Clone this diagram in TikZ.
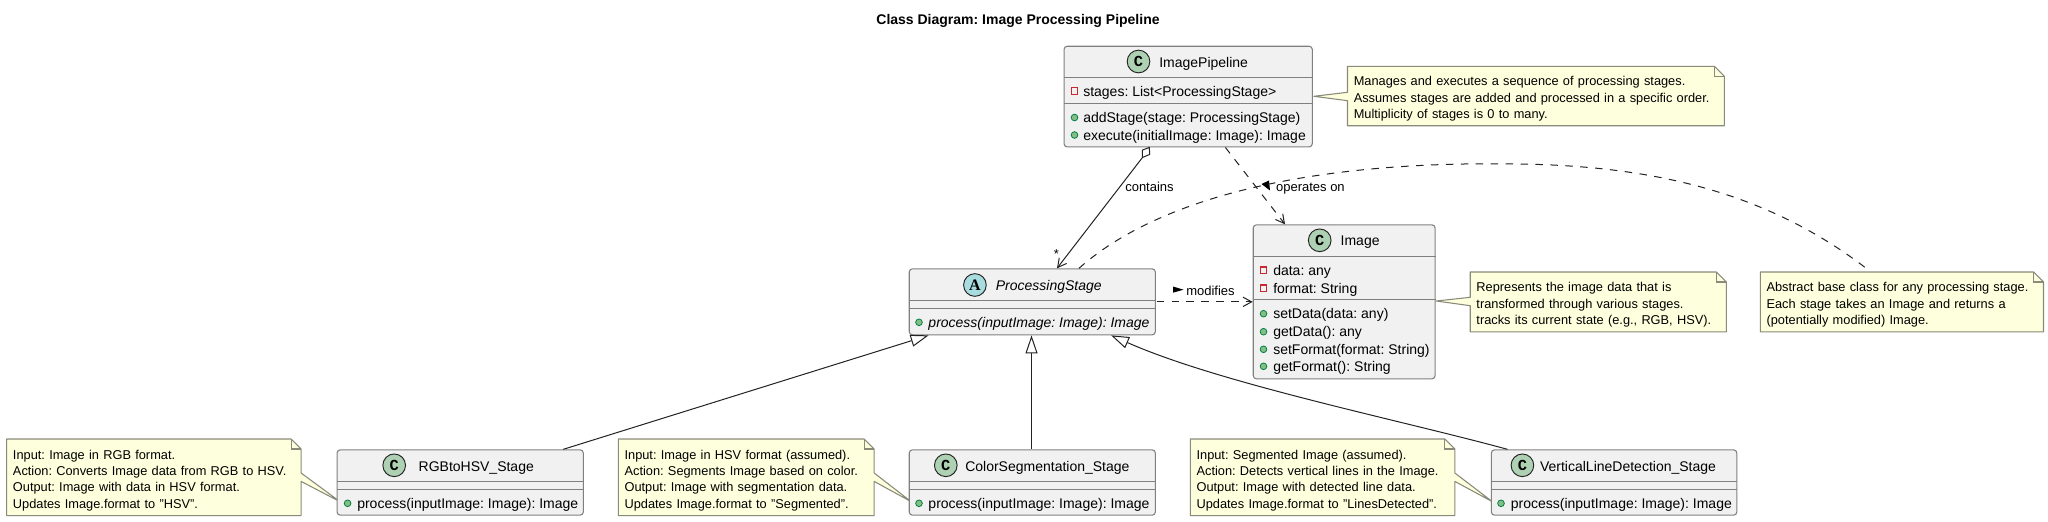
\documentclass[tikz,border=0pt]{standalone}
\usepackage{fontspec}
\setmainfont{Liberation Sans}
\newfontfamily\circlefont{Liberation Mono}
\newfontfamily\abstractfont{Liberation Serif}
\usetikzlibrary{arrows.meta,calc,backgrounds}
\frenchspacing
\definecolor{boxfill}{HTML}{F1F1F1}
\definecolor{boxline}{HTML}{808080}
\definecolor{notefill}{HTML}{FEFFDD}
\definecolor{noteline}{HTML}{8A8A7A}
\definecolor{edgecol}{HTML}{222222}
\definecolor{classcirc}{HTML}{ADD1B2}
\definecolor{abscirc}{HTML}{A9DCDF}
\definecolor{pubfill}{HTML}{84BE84}
\definecolor{publine}{HTML}{038048}
\definecolor{privline}{HTML}{C82930}
\tikzset{
  x=0.75pt,y=-0.75pt,
  classbox/.style={draw=boxline,fill=boxfill,line width=0.8pt,rounded corners=2.4pt,inner sep=0pt,anchor=north west},
  sepline/.style={draw=boxline,line width=0.8pt},
  classname/.style={anchor=base west,inner sep=0pt,font=\fontsize{10.5pt}{12pt}\selectfont},
  member/.style={anchor=base west,inner sep=0pt,font=\fontsize{10.5pt}{12pt}\selectfont},
  edgelabel/.style={anchor=base west,inner sep=0pt,font=\fontsize{9.75pt}{12pt}\selectfont},
  circ/.style={circle,draw=edgecol,line width=0.7pt,minimum size=17pt,inner sep=0pt,font=\circlefont\bfseries\fontsize{11.5pt}{12pt}\selectfont},
  pubdot/.style={circle,draw=publine,fill=pubfill,line width=0.6pt,minimum size=5pt,inner sep=0pt},
  privsq/.style={rectangle,draw=privline,line width=0.8pt,minimum size=5pt,inner sep=0pt},
  notebox/.style={anchor=north west,inner xsep=4.5pt,inner ysep=0pt,align=left,font=\fontsize{9.6pt}{12.3pt}\selectfont},
  noteedge/.style={draw=noteline,fill=notefill,line width=0.8pt,line join=round},
  foldedge/.style={draw=noteline,line width=0.8pt},
  edge/.style={draw=edgecol,line width=0.75pt},
  dashededge/.style={edge,dash pattern=on 5.6pt off 5.6pt},
  openhead/.style={-{Straight Barb[length=6.5pt,width=7pt,line width=0.75pt]}},
  genhead/.style={{Triangle[open,length=13.5pt,width=9pt,fill=white,line width=0.75pt]}-},
  dirmark/.style={fill=black},
}
\newcommand{\sepat}[2]{\draw[sepline] ($(#1.north west)+(0,#2)$) -- ($(#1.north east)+(0,#2)$);}
\newcommand{\notestrut}{\rule{0pt}{11.5pt}}
% left tail: node, tail-base offset from top, tip
\newcommand{\noteleft}[3]{%
  \begin{pgfonlayer}{background}
  \draw[noteedge] (#1.north west) -- ($(#1.north east)+(-10,0)$) -- ($(#1.north east)+(0,10)$) -- (#1.south east) -- (#1.south west) -- ($(#1.north west)+(0,#2+8.4)$) -- #3 -- ($(#1.north west)+(0,#2)$) -- cycle;
  \draw[foldedge] ($(#1.north east)+(-10,0)$) -- ($(#1.north east)+(-10,10)$) -- ($(#1.north east)+(0,10)$);
  \end{pgfonlayer}}
\newcommand{\noteright}[3]{%
  \begin{pgfonlayer}{background}
  \draw[noteedge] (#1.north west) -- ($(#1.north east)+(-10,0)$) -- ($(#1.north east)+(0,10)$) -- ($(#1.north east)+(0,#2)$) -- #3 -- ($(#1.north east)+(0,#2+8.4)$) -- (#1.south east) -- (#1.south west) -- cycle;
  \draw[foldedge] ($(#1.north east)+(-10,0)$) -- ($(#1.north east)+(-10,10)$) -- ($(#1.north east)+(0,10)$);
  \end{pgfonlayer}}
\newcommand{\notenoTail}[1]{%
  \begin{pgfonlayer}{background}
  \draw[noteedge] (#1.north west) -- ($(#1.north east)+(-10,0)$) -- ($(#1.north east)+(0,10)$) -- (#1.south east) -- (#1.south west) -- cycle;
  \draw[foldedge] ($(#1.north east)+(-10,0)$) -- ($(#1.north east)+(-10,10)$) -- ($(#1.north east)+(0,10)$);
  \end{pgfonlayer}}
\begin{document}
\begin{tikzpicture}
\useasboundingbox (0,0) rectangle (2048,521);

% title
\node[inner sep=0pt,font=\bfseries\fontsize{10.5pt}{12pt}\selectfont] (title) at (1018,20.7) {Class Diagram: Image Processing Pipeline};

% ImagePipeline
\node[classbox,minimum width=186.2pt,minimum height=75.5pt] (pipe) at (1063.5,45.7) {};
\sepat{pipe}{31.6}\sepat{pipe}{58}
\node[circ,fill=classcirc] (pipec) at (1138.5,61.5) {C};
\node[classname] (pipet) at (1159,67) {ImagePipeline};
\node[privsq] (pipem1) at (1074.5,91) {};
\node[member] (pipea1) at (1083,96) {stages: List<ProcessingStage>};
\node[pubdot] (pipem2) at (1074.5,117.5) {};
\node[member] (pipeo1) at (1083,122.5) {addStage(stage: ProcessingStage)};
\node[pubdot] (pipem3) at (1074.5,135) {};
\node[member] (pipeo2) at (1083,140) {execute(initialImage: Image): Image};

% Image
\node[classbox,minimum width=136.4pt,minimum height=115.5pt] (img) at (1252.7,224.3) {};
\sepat{img}{32}\sepat{img}{75}
\node[circ,fill=classcirc] (imgc) at (1319.7,240.3) {C};
\node[classname] (imgt) at (1340.4,245.5) {Image};
\node[privsq] (imgm1) at (1263.5,270.3) {};
\node[member] (imga1) at (1273,275) {data: any};
\node[privsq] (imgm2) at (1263.5,288.3) {};
\node[member] (imga2) at (1273,293) {format: String};
\node[pubdot] (imgm3) at (1263.5,313.7) {};
\node[member] (imgo1) at (1273,318.5) {setData(data: any)};
\node[pubdot] (imgm4) at (1263.5,331.7) {};
\node[member] (imgo2) at (1273,336.5) {getData(): any};
\node[pubdot] (imgm5) at (1263.5,349.3) {};
\node[member] (imgo3) at (1273,354) {setFormat(format: String)};
\node[pubdot] (imgm6) at (1263.5,366.3) {};
\node[member] (imgo4) at (1273,371) {getFormat(): String};

% ProcessingStage
\node[classbox,minimum width=184.6pt,minimum height=49.5pt] (ps) at (908.7,268.3) {};
\sepat{ps}{32}\sepat{ps}{40}
\node[circ,fill=abscirc,font=\abstractfont\bfseries\fontsize{12pt}{12pt}\selectfont] (psc) at (974.9,285) {A};
\node[classname,font=\itshape\fontsize{10.5pt}{12pt}\selectfont] (pst) at (995.6,290) {ProcessingStage};
\node[pubdot] (psm1) at (919,322.3) {};
\node[member,font=\itshape\fontsize{10.5pt}{12pt}\selectfont] (pso1) at (928.2,327) {process(inputImage: Image): Image};

% RGBtoHSV_Stage
\node[classbox,minimum width=184.7pt,minimum height=49pt] (rgb) at (336.5,449.3) {};
\sepat{rgb}{32}\sepat{rgb}{40}
\node[circ,fill=classcirc] (rgbc) at (394.2,465.3) {C};
\node[classname] (rgbt) at (418.4,471) {RGBtoHSV\_Stage};
\node[pubdot] (rgbm1) at (347.6,503.3) {};
\node[member] (rgbo1) at (357,508) {process(inputImage: Image): Image};

% ColorSegmentation_Stage
\node[classbox,minimum width=184.6pt,minimum height=49pt] (seg) at (908.7,449.3) {};
\sepat{seg}{32}\sepat{seg}{40}
\node[circ,fill=classcirc] (segc) at (945.8,465.3) {C};
\node[classname] (segt) at (965,471) {ColorSegmentation\_Stage};
\node[pubdot] (segm1) at (919,503.3) {};
\node[member] (sego1) at (928.2,508) {process(inputImage: Image): Image};

% VerticalLineDetection_Stage
\node[classbox,minimum width=184.1pt,minimum height=49pt] (vert) at (1490.8,449.3) {};
\sepat{vert}{32}\sepat{vert}{40}
\node[circ,fill=classcirc] (vertc) at (1522.4,465.3) {C};
\node[classname] (vertt) at (1539.8,471) {VerticalLineDetection\_Stage};
\node[pubdot] (vertm1) at (1501,503.3) {};
\node[member] (verto1) at (1510.6,508) {process(inputImage: Image): Image};

% notes
\node[notebox,minimum width=282.2pt,minimum height=44.2pt,text width=273.2pt] (npipe) at (1347.5,66.3) {\notestrut Manages and executes a sequence of processing stages.\\Assumes stages are added and processed in a specific order.\\Multiplicity of stages is 0 to many.};
\noteleft{npipe}{26}{($(pipe.north east)+(1,50.6)$)}

\node[notebox,minimum width=191.7pt,minimum height=44.5pt,text width=182.7pt] (nimg) at (1470.2,272) {\notestrut Represents the image data that is\\transformed through various stages.\\tracks its current state (e.g., RGB, HSV).};
\noteleft{nimg}{25.3}{($(img.north east)+(0.5,76.7)$)}

\node[notebox,minimum width=212pt,minimum height=44.5pt,text width=203pt] (nps) at (1760.3,272) {\notestrut Abstract base class for any processing stage.\\Each stage takes an Image and returns a\\(potentially modified) Image.};
\notenoTail{nps}

\node[notebox,minimum width=220.4pt,minimum height=57pt,text width=211.4pt] (nrgb) at (6.7,439) {\notestrut Input: Image in RGB format.\\Action: Converts Image data from RGB to HSV.\\Output: Image with data in HSV format.\\Updates Image.format to "HSV".};
\noteright{nrgb}{34}{($(rgb.south west)+(3.5,-14)$)}

\node[notebox,minimum width=191.5pt,minimum height=57pt,text width=182.5pt] (nseg) at (618.3,439) {\notestrut Input: Image in HSV format (assumed).\\Action: Segments Image based on color.\\Output: Image with segmentation data.\\Updates Image.format to "Segmented".};
\noteright{nseg}{34}{($(seg.south west)+(2.5,-14)$)}

\node[notebox,minimum width=198pt,minimum height=57pt,text width=189pt] (nvert) at (1190.3,439) {\notestrut Input: Segmented Image (assumed).\\Action: Detects vertical lines in the Image.\\Output: Image with detected line data.\\Updates Image.format to "LinesDetected".};
\noteright{nvert}{34}{($(vert.south west)+(1.6,-14)$)}

% connectors
\draw[edge,openhead] ($(pipe.south west)+(79,10)$) -- ($(ps.north west)+(148.3,0)$);
\draw[edge,fill=white,line join=round] ($(pipe.south west)+(85.8,0)$) -- ($(pipe.south west)+(78.8,2.7)$) -- ($(pipe.south west)+(79,10)$) -- ($(pipe.south west)+(86.2,7)$) -- cycle;
\node[edgelabel] (lcont) at (1125,191.5) {contains};
\node[edgelabel] (lstar) at (1053.5,258) {*};

\draw[dashededge,openhead] ($(pipe.south west)+(161.9,0)$) -- ($(img.north west)+(32.3,0)$);
\node[edgelabel] (lop) at (1275.8,191.5) {operates on};
\fill[dirmark] ($(lop.base west)+(-14.3,-7.5)$) -- ($(lop.base west)+(-6.8,-11)$) -- ($(lop.base west)+(-5.8,-1)$) -- cycle;

\draw[dashededge,openhead] (ps.north east |- img.west) ++(0.7,0) coordinate (modstart) (modstart) -- (modstart -| img.west);
\node[edgelabel] (lmod) at (1186,295) {modifies};
\fill[dirmark] ($(lmod.base west)+(-13,-8.5)$) -- ($(lmod.base west)+(-2.5,-5.3)$) -- ($(lmod.base west)+(-13,-2.3)$) -- cycle;

\draw[dashededge] ($(ps.north west)+(170.3,0)$) .. controls (1150,205) and (1290,160) .. (1519,164) .. controls (1660,166) and (1770,195) .. ($(nps.north west)+(105.1,-4.3)$);

\draw[edge,genhead] ($(ps.south west)+(19.9,0)$) -- ($(rgb.north east)+(-20.5,0)$);
\draw[edge,genhead] ($(ps.south west)+(122.8,0)$) -- ($(seg.north west)+(122.8,0)$);
\draw[edge,genhead] ($(ps.south west)+(202.4,0)$) .. controls (1220,383.5) and (1400,420) .. ($(vert.north west)+(16.6,0)$);
\end{tikzpicture}
\end{document}
